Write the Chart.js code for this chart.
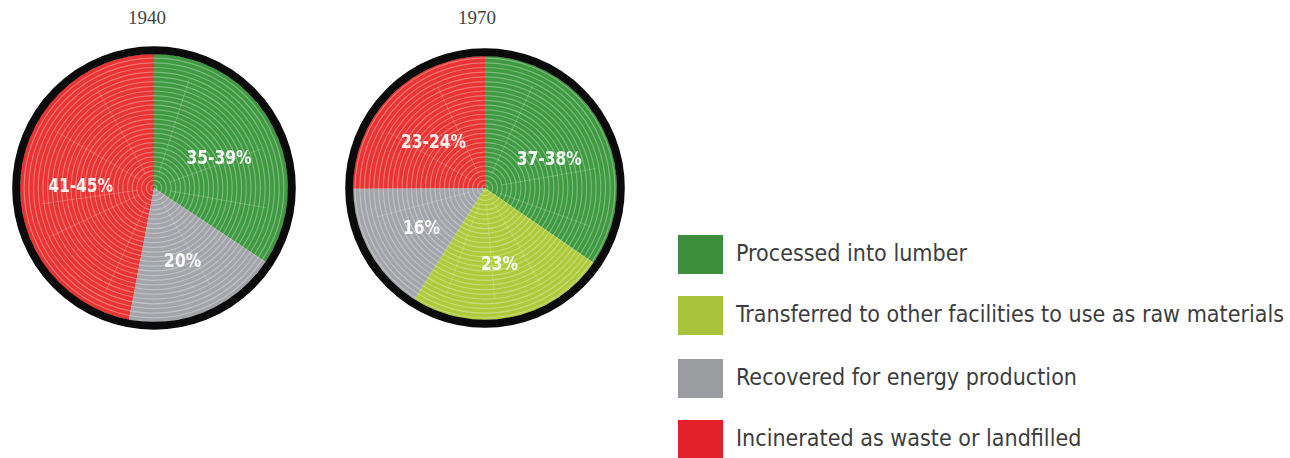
<!DOCTYPE html>
<html><head><meta charset="utf-8">
<script src="https://cdn.jsdelivr.net/npm/chart.js@4.4.1/dist/chart.umd.min.js"></script>
<style>
html,body{margin:0;padding:0;background:#fff;width:1290px;height:458px;overflow:hidden;position:relative;font-family:"DejaVu Sans Condensed",sans-serif;}
.year{position:absolute;top:6px;font-family:"Liberation Serif",serif;font-size:19px;color:#444;width:80px;text-align:center;line-height:24px;}
canvas{position:absolute;}
#legend{position:absolute;left:678px;top:0;}
.item{position:absolute;left:0;height:39px;white-space:nowrap;}
.sw{position:absolute;left:0;top:0;width:45px;height:39px;}
.tx{position:absolute;left:58px;top:0;line-height:37px;color:#3d3d3d;transform-origin:0 50%;}
</style></head>
<body>
<div class="year" id="y0" style="left:107px"></div>
<div class="year" id="y1" style="left:437px"></div>
<canvas id="c0" width="300" height="300" style="left:4px;top:38px"></canvas>
<canvas id="c1" width="300" height="300" style="left:335px;top:38px"></canvas>
<div id="legend"></div>
<script>
// ---- data ----
const categories = ["Processed into lumber", "Transferred to other facilities to use as raw materials", "Recovered for energy production", "Incinerated as waste or landfilled"];
const years = ["1940", "1970"];
const values1940 = [34.3, 0, 18.7, 47.0];
const values1970 = [34.6, 24.4, 15.9, 25.1];
const labels1940 = ["35-39%", "", "20%", "41-45%"];
const labels1970 = ["37-38%", "23%", "16%", "23-24%"];

// ---- styles ----
const pieColors = ["#3f9a41", "#afca3a", "#a4a5aa", "#ea3333"];
const legendColors = ["#3d8f3e", "#a9c23b", "#9b9c9f", "#e3212b"];
const crackAngles = [[18, 70, 100, 150, 205, 245, 262, 300, 330], [25, 80, 110, 150, 175, 200, 255, 300, 335]];
const fam = '"DejaVu Sans Condensed", sans-serif';

const treePlugin = {
  id: 'tree',
  afterDatasetsDraw(chart, args, opts) {
    const meta = chart.getDatasetMeta(0);
    const a0 = meta.data[0];
    const {x, y, outerRadius} = a0.getProps(['x', 'y', 'outerRadius'], true);
    const ctx = chart.ctx;
    ctx.save();
    ctx.beginPath(); ctx.arc(x, y, outerRadius, 0, Math.PI * 2); ctx.clip();
    ctx.strokeStyle = 'rgba(255,255,255,0.32)'; ctx.lineWidth = 1.2;
    for (let r = 3; r < outerRadius; r += 4.7) { ctx.beginPath(); ctx.arc(x, y, r, 0, Math.PI * 2); ctx.stroke(); }
    ctx.strokeStyle = 'rgba(255,255,255,0.2)'; ctx.lineWidth = 1;
    (opts.cracks || []).forEach(d => {
      const t = d * Math.PI / 180 - Math.PI / 2;
      ctx.beginPath();
      ctx.moveTo(x + Math.cos(t) * outerRadius * 0.12, y + Math.sin(t) * outerRadius * 0.12);
      ctx.lineTo(x + Math.cos(t) * outerRadius * 0.85, y + Math.sin(t) * outerRadius * 0.85);
      ctx.stroke();
    });
    ctx.restore();
    // bark
    ctx.save();
    ctx.beginPath(); ctx.arc(x, y, outerRadius + 3.8, 0, Math.PI * 2);
    ctx.lineWidth = 8; ctx.strokeStyle = '#0b0b0b'; ctx.stroke();
    ctx.restore();
    // labels (slightly condensed)
    const labs = opts.labels || [];
    const sx = 0.86;
    meta.data.forEach((arc, i) => {
      if (!labs[i]) return;
      const cp = arc.getCenterPoint();
      const f = 1.1;
      const lx = x + (cp.x - x) * f, ly = y + (cp.y - y) * f + 6;
      ctx.save();
      ctx.fillStyle = 'rgba(255,255,255,0.93)';
      ctx.font = 'bold 20px ' + fam;
      ctx.textAlign = 'center'; ctx.textBaseline = 'middle';
      ctx.translate(lx, ly); ctx.scale(sx, 1);
      ctx.fillText(labs[i], 0, 0);
      ctx.restore();
    });
  }
};

function makePie(id, values, labels, pad, cracks) {
  return new Chart(document.getElementById(id), {
    type: 'pie',
    data: { labels: categories, datasets: [{ data: values, backgroundColor: pieColors, borderWidth: 0 }] },
    options: {
      responsive: false, animation: false,
      layout: { padding: pad },
      plugins: { legend: { display: false }, tooltip: { enabled: false }, tree: { labels: labels, cracks: cracks } }
    },
    plugins: [treePlugin]
  });
}
makePie('c0', values1940, labels1940, 16, crackAngles[0]);
makePie('c1', values1970, labels1970, 18, crackAngles[1]);
document.getElementById('y0').textContent = years[0];
document.getElementById('y1').textContent = years[1];

// ---- legend ----
const fs = 23.5;
const mctx = document.createElement('canvas').getContext('2d');
mctx.font = fs + 'px ' + fam;
const longest = categories.reduce((m, c) => Math.max(m, mctx.measureText(c).width), 0);
const sxL = 548 / longest;
const tops = [235, 296, 359, 420];
const lg = document.getElementById('legend');
categories.forEach((c, i) => {
  const it = document.createElement('div'); it.className = 'item'; it.style.top = tops[i] + 'px';
  const sw = document.createElement('div'); sw.className = 'sw'; sw.style.background = legendColors[i];
  const tx = document.createElement('div'); tx.className = 'tx'; tx.textContent = c;
  tx.style.fontSize = fs + 'px'; tx.style.transform = 'scaleX(' + sxL + ')';
  it.appendChild(sw); it.appendChild(tx); lg.appendChild(it);
});
</script>
</body></html>
